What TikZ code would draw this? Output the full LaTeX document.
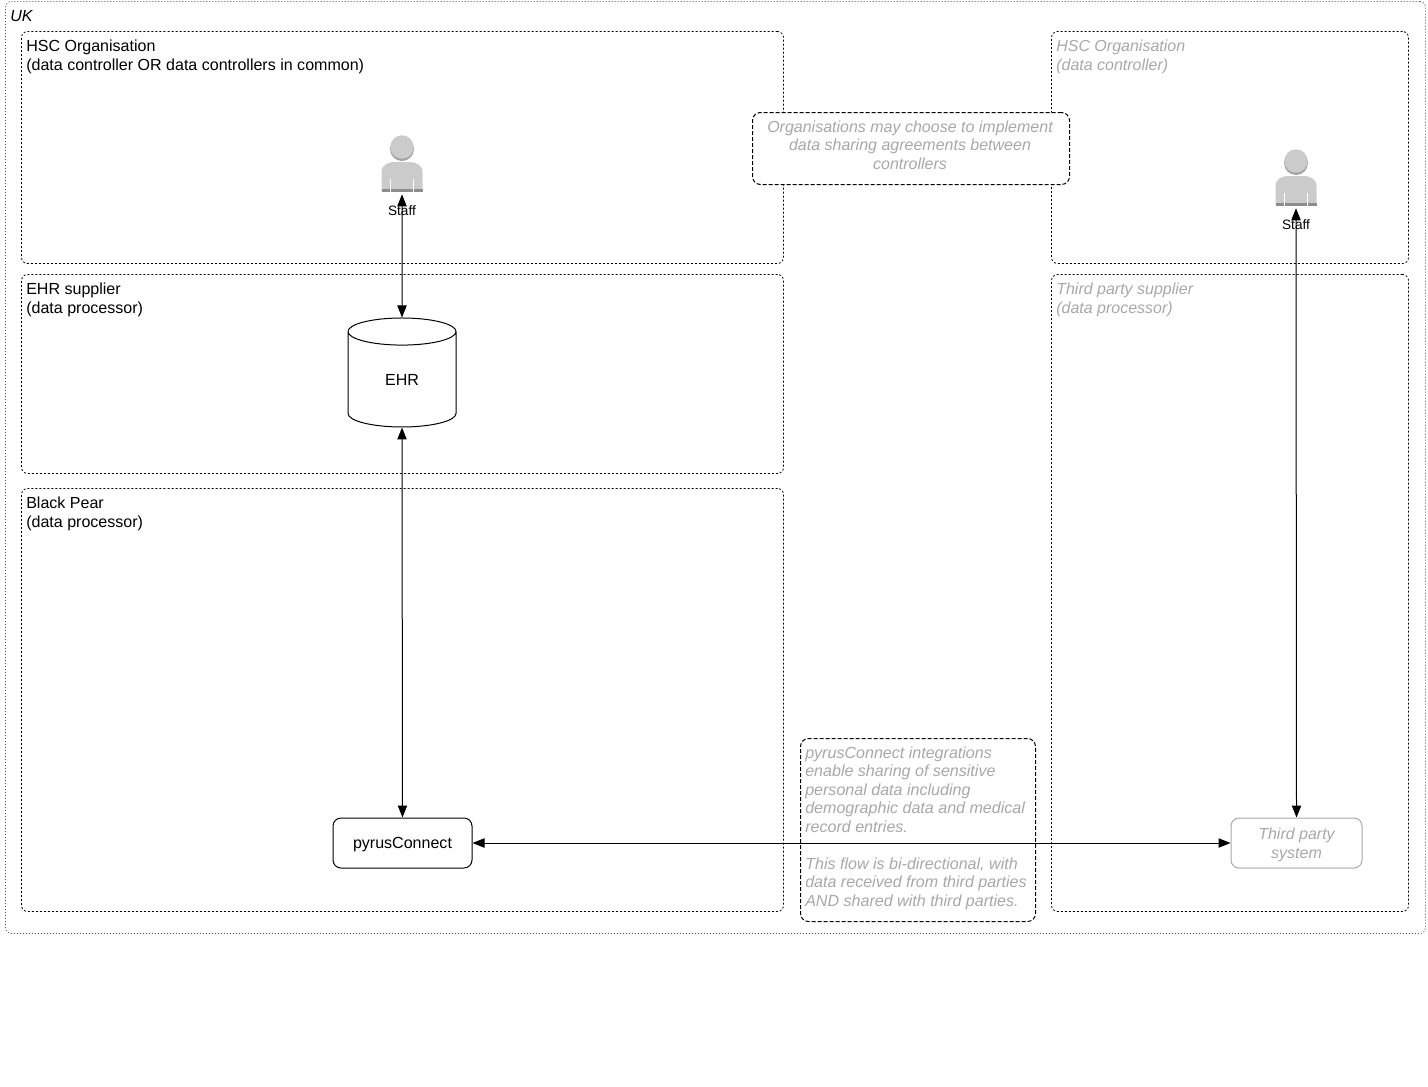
\documentclass[tikz,border=0pt]{standalone}
\usepackage{fontspec}
\setmainfont{Liberation Sans}
\usetikzlibrary{arrows.meta,shapes.geometric}

\definecolor{faded}{HTML}{A8A8A8}
\definecolor{staffbody}{HTML}{CBCBCB}
\definecolor{staffdark}{HTML}{8C8C8C}

\tikzset{
    txt/.style={font=\fontsize{12.03}{13.9}\selectfont, inner sep=0pt, align=left},
    fadedtxt/.style={txt, text=faded, font=\fontsize{12}{13.9}\selectfont\itshape},
    regionbox/.style={draw, line width=0.6pt, dash pattern=on 1.5pt off 1.5pt, rounded corners=4.5pt, anchor=north west, inner sep=0pt, outer sep=0pt},
    notebox/.style={draw, line width=0.75pt, dash pattern=on 3pt off 1.5pt, rounded corners=6pt, fill=white, anchor=north west, inner sep=0pt, outer sep=0pt},
    sysbox/.style={draw, line width=0.75pt, rounded corners=6pt, txt, align=center, text depth=0pt},
    flow/.style={line width=0.75pt, {Triangle[length=9pt,width=7pt]}-{Triangle[length=9pt,width=7pt]}},
    staffman/.pic={
        \fill[staffdark!80] (0,-15) circle (12);
        \fill[staffbody] (0,-17) circle (11.7);
        \fill[staffbody] (-20.5,27) -- (-20.5,8) .. controls (-20.5,0) and (-12,-2) .. (-8,-2) -- (8,-2) .. controls (12,-2) and (20.5,0) .. (20.5,8) -- (20.5,27) -- cycle;
        \fill[staffdark] (-20.5,25) rectangle (20.5,28);
        \fill[white] (-12.5,15) rectangle (-11.5,28);
        \fill[white] (10.5,15) rectangle (11.5,28);
    }
}

\begin{document}
\begin{tikzpicture}[x=0.75pt,y=-0.75pt]
    \useasboundingbox (0,0) rectangle (1428,1086);

    % regions
    \node[draw=gray!70!black, line width=0.7pt, dash pattern=on 0.75pt off 1.5pt, rounded corners=4.5pt, anchor=north west, inner sep=0pt, outer sep=0pt, minimum width=1420*0.75pt, minimum height=932*0.75pt] (uk) at (5.5,1.5) {};
    \node[regionbox, minimum width=762*0.75pt, minimum height=232*0.75pt] (hsca) at (21.5,31.5) {};
    \node[regionbox, minimum width=762*0.75pt, minimum height=199*0.75pt] (ehrsup) at (21.5,274.5) {};
    \node[regionbox, minimum width=762*0.75pt, minimum height=423*0.75pt] (bp) at (21.5,488.5) {};
    \node[regionbox, minimum width=357*0.75pt, minimum height=232*0.75pt] (hscb) at (1051.5,31.5) {};
    \node[regionbox, minimum width=357*0.75pt, minimum height=637*0.75pt] (tpsup) at (1051.5,274.5) {};

    % region labels
    \node[txt, anchor=north west] (uklab) at (10,10) {\textit{UK}};
    \node[txt, anchor=north west] (hscalab) at (26,40) {HSC Organisation\\(data controller OR data controllers in common)};
    \node[txt, anchor=north west] (ehrlab) at (26,283) {EHR supplier\\(data processor)};
    \node[txt, anchor=north west] (bplab) at (26,497) {Black Pear\\(data processor)};
    \node[fadedtxt, anchor=north west] (hscblab) at (1056,40) {HSC Organisation\\(data controller)};
    \node[fadedtxt, anchor=north west] (tplab) at (1056,283) {Third party supplier\\(data processor)};

    % notes
    \node[notebox, minimum width=317*0.75pt, minimum height=72*0.75pt] (share) at (752.5,112.5) {};
    \node[fadedtxt, align=center] (sharetxt) at (910,145) {Organisations may choose to implement\\data sharing agreements between\\controllers};
    \node[notebox, minimum width=235*0.75pt, minimum height=183*0.75pt] (flownote) at (800.5,738.5) {};
    \node[fadedtxt, anchor=north west, font=\fontsize{12.05}{13.85}\selectfont\itshape] (flowtxt) at (805,746.5) {pyrusConnect integrations\\enable sharing of sensitive\\personal data including\\demographic data and medical\\record entries.\\[13.85pt]This flow is bi-directional, with\\data received from third parties\\AND shared with third parties.};

    % staff
    \pic at (402,164) {staffman};
    \pic at (1296,178) {staffman};
    \node[inner sep=0pt, minimum width=31.5pt, minimum height=45pt] (staffa) at (402,164) {};
    \node[inner sep=0pt, minimum width=31.5pt, minimum height=45pt] (staffb) at (1296,178) {};
    \node[font=\fontsize{10.2}{12}\selectfont, inner sep=0pt] (staffalab) at (402,210.5) {Staff};
    \node[font=\fontsize{10.2}{12}\selectfont, inner sep=0pt] (staffblab) at (1296,224.5) {Staff};

    % systems
    \node[draw, line width=0.75pt, cylinder, shape border rotate=90, aspect=0.8, minimum width=108*0.75pt, minimum height=109*0.75pt, inner sep=0pt, font=\fontsize{12.03}{13.9}\selectfont] (ehr) at (402,379.5) {EHR};
    \node[sysbox, minimum width=139*0.75pt, minimum height=50*0.75pt] (pyrus) at (402.5,843) {pyrusConnect};
    \node[sysbox, draw=faded, text=faded, font=\fontsize{12}{13.9}\selectfont\itshape, minimum width=131*0.75pt, minimum height=50*0.75pt] (third) at (1296.5,843) {Third party\\system};

    % flows
    \draw[flow] (staffa.south) -- (ehr.north);
    \draw[flow] (ehr.south) -- (pyrus.north);
    \draw[flow] (pyrus.east) -- (third.west);
    \draw[flow] (staffb.south) -- (third.north);
\end{tikzpicture}
\end{document}
